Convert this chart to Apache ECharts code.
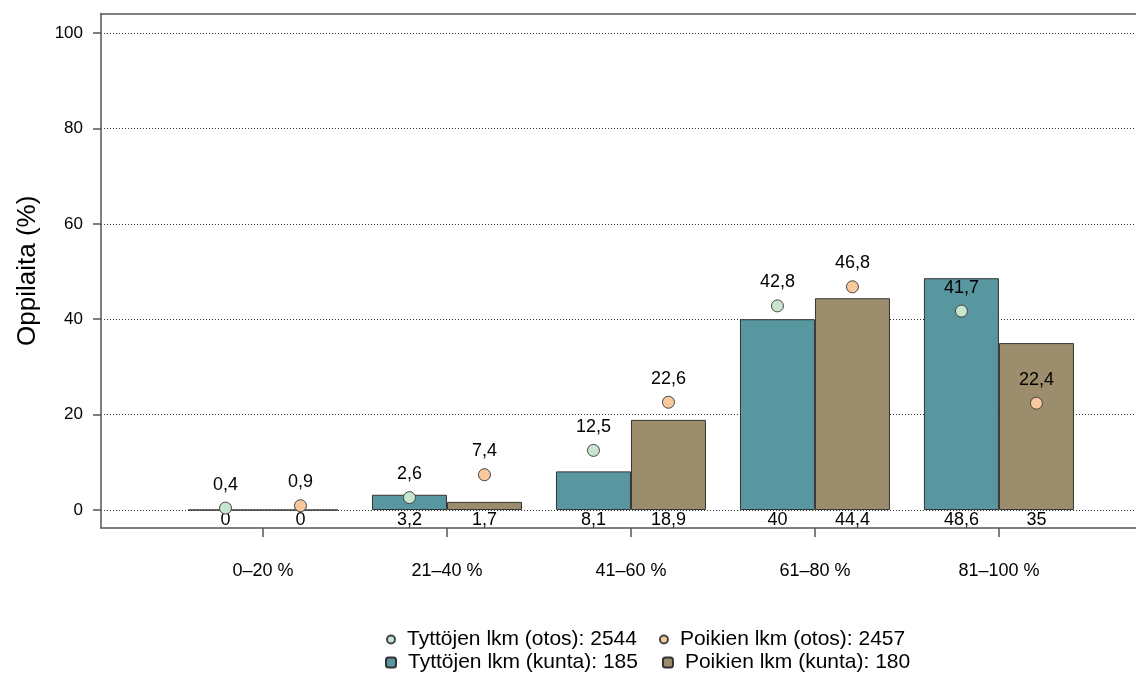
<!DOCTYPE html>
<html>
<head>
<meta charset="utf-8">
<script src="https://cdn.jsdelivr.net/npm/echarts@6/dist/echarts.min.js"></script>
<style>html,body{margin:0;padding:0;background:#fff;}#c{width:1136px;height:673px;}</style>
</head>
<body>
<div id="c"></div>
<script>
const categories = ['0–20 %', '21–40 %', '41–60 %', '61–80 %', '81–100 %'];
const girlsKunta = [0, 3.2, 8.1, 40, 48.6];
const boysKunta = [0, 1.7, 18.9, 44.4, 35];
const girlsOtos = [0.4, 2.6, 12.5, 42.8, 41.7];
const boysOtos = [0.9, 7.4, 22.6, 46.8, 22.4];
const yTicks = [0, 20, 40, 60, 80, 100];
const names = {
  girlsOtos: 'Tyttöjen lkm (otos): 2544',
  boysOtos: 'Poikien lkm (otos): 2457',
  girlsKunta: 'Tyttöjen lkm (kunta): 185',
  boysKunta: 'Poikien lkm (kunta): 180'
};

const FONT = 'Liberation Sans';
const fmt = v => String(v).replace('.', ',');
const xy = arr => arr.map((v, i) => [i + 1, v]);
const BW = 75;
const legendText = {fontSize: 21, color: '#000', fontFamily: FONT, padding: [0, 0, 0, 7]};
const valLabel = {fontSize: 18, color: '#000', fontFamily: FONT};

const chart = echarts.init(document.getElementById('c'), null, {renderer: 'canvas'});
chart.setOption({
  animation: false,
  backgroundColor: '#fff',
  textStyle: {fontFamily: FONT, color: '#000'},
  grid: {left: 101, right: 0, top: 13.5, bottom: 145, containLabel: false},
  xAxis: [{
    type: 'value', min: 0.1196, max: 5.745,
    axisLine: {show: true, onZero: false, lineStyle: {color: '#555', width: 1.5}},
    axisTick: {show: true, length: 9, customValues: [1, 2, 3, 4, 5], lineStyle: {color: '#555', width: 1.5}},
    axisLabel: {customValues: [1, 2, 3, 4, 5], formatter: v => categories[Math.round(v) - 1] || '',
      fontSize: 18, color: '#000', margin: 34, fontFamily: FONT},
    splitLine: {show: false}
  }, {
    type: 'value', min: 0.1196, max: 5.745, position: 'top',
    axisLine: {show: true, onZero: false, lineStyle: {color: '#555', width: 1.5}},
    axisTick: {show: false}, axisLabel: {show: false}, splitLine: {show: false}
  }],
  yAxis: {
    type: 'value', min: -3.77, max: 104.1,
    name: 'Oppilaita (%)', nameLocation: 'middle', nameGap: 60,
    nameTextStyle: {fontSize: 26, color: '#000', fontFamily: FONT},
    axisLine: {show: true, onZero: false, lineStyle: {color: '#555', width: 1.5}},
    axisTick: {show: true, length: 8, customValues: yTicks, lineStyle: {color: '#555', width: 1.5}},
    axisLabel: {customValues: yTicks, fontSize: 17, color: '#000', margin: 18, fontFamily: FONT},
    splitLine: {show: true, lineStyle: {color: '#333', type: [1, 2], width: 1}}
  },
  legend: [{
    data: [names.girlsOtos, names.boysOtos],
    left: 381, top: 624, orient: 'horizontal', itemWidth: 8, itemHeight: 8, itemGap: 22,
    textStyle: legendText
  }, {
    data: [names.girlsKunta, names.boysKunta],
    left: 380, top: 647, orient: 'horizontal', itemWidth: 10, itemHeight: 10, itemGap: 24,
    textStyle: legendText
  }],
  series: [{
    name: names.girlsKunta, type: 'bar', data: xy(girlsKunta), barWidth: BW, barGap: '0%',
    itemStyle: {color: '#5896a0', borderColor: '#333', borderWidth: 1},
    label: Object.assign({show: true, position: 'bottom', distance: 1, formatter: p => fmt(p.value[1])}, valLabel),
    z: 2
  }, {
    name: names.boysKunta, type: 'bar', data: xy(boysKunta), barWidth: BW, barGap: '0%',
    itemStyle: {color: '#9c8e6d', borderColor: '#333', borderWidth: 1},
    label: Object.assign({show: true, position: 'bottom', distance: 1, formatter: p => fmt(p.value[1])}, valLabel),
    z: 2
  }, {
    name: names.girlsOtos, type: 'scatter', data: xy(girlsOtos), symbol: 'circle', symbolSize: 12,
    symbolOffset: [-BW / 2, 0],
    itemStyle: {color: '#c7e5cf', borderColor: '#444', borderWidth: 1, opacity: 1},
    label: Object.assign({show: true, position: 'top', distance: 8, formatter: p => fmt(p.value[1])}, valLabel),
    z: 3
  }, {
    name: names.boysOtos, type: 'scatter', data: xy(boysOtos), symbol: 'circle', symbolSize: 12,
    symbolOffset: [BW / 2, 0],
    itemStyle: {color: '#f9c89d', borderColor: '#444', borderWidth: 1, opacity: 1},
    label: Object.assign({show: true, position: 'top', distance: 8, formatter: p => fmt(p.value[1])}, valLabel),
    z: 3
  }]
});
</script>
</body>
</html>
